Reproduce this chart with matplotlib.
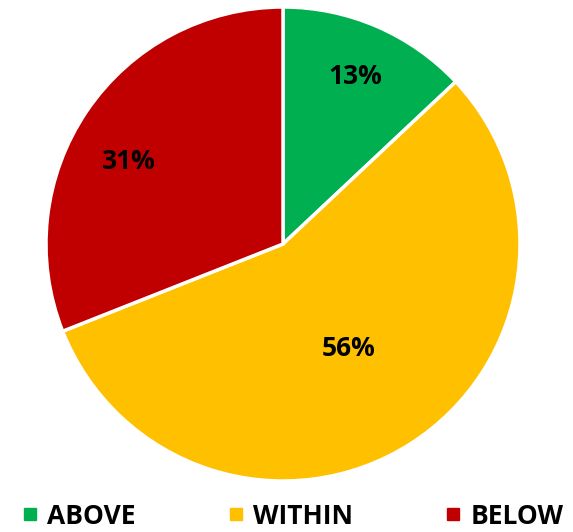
import numpy as np
import matplotlib.pyplot as plt
from matplotlib.lines import Line2D

labels = ["ABOVE", "WITHIN", "BELOW"]
shares = [13, 56, 31]
colors = ["#00B050", "#FFC000", "#C00000"]
label_dist = [0.77, 0.52, 0.74]
label_shift = [0, 0, 6]  # degrees, Excel best-fit nudges

plt.rcParams['font.family'] = ['Open Sans', 'DejaVu Sans']

fig = plt.figure(figsize=(5.73, 5.32), dpi=100)
ax = fig.add_axes([46 / 573, 51 / 532, 474 / 573, 474 / 532])

wedges, _ = ax.pie(shares, colors=colors, startangle=90, counterclock=False,
                   radius=1, wedgeprops=dict(edgecolor="white", linewidth=2.5))

for w, v, d, s in zip(wedges, shares, label_dist, label_shift):
    ang = np.deg2rad((w.theta1 + w.theta2) / 2 + s)
    ax.text(d * np.cos(ang), d * np.sin(ang), f"{v}%", ha="center", va="center",
            fontsize=19, fontweight="bold", color="black")

ax.set_xlim(-1.0, 1.0)
ax.set_ylim(-1.0, 1.0)
ax.set_aspect("equal")
ax.axis("off")

handles = [Line2D([], [], marker="s", linestyle="none", markersize=9,
                  markerfacecolor=c, markeredgecolor=c) for c in colors]
fig.legend(handles, labels, loc="center", bbox_to_anchor=(0.51, 0.03), ncol=3,
           frameon=False, prop=dict(size=19, weight="bold"),
           handlelength=0.7, handletextpad=0.3, columnspacing=3.45,
           borderpad=0, borderaxespad=0)

fig.savefig("out.png", dpi=100)
